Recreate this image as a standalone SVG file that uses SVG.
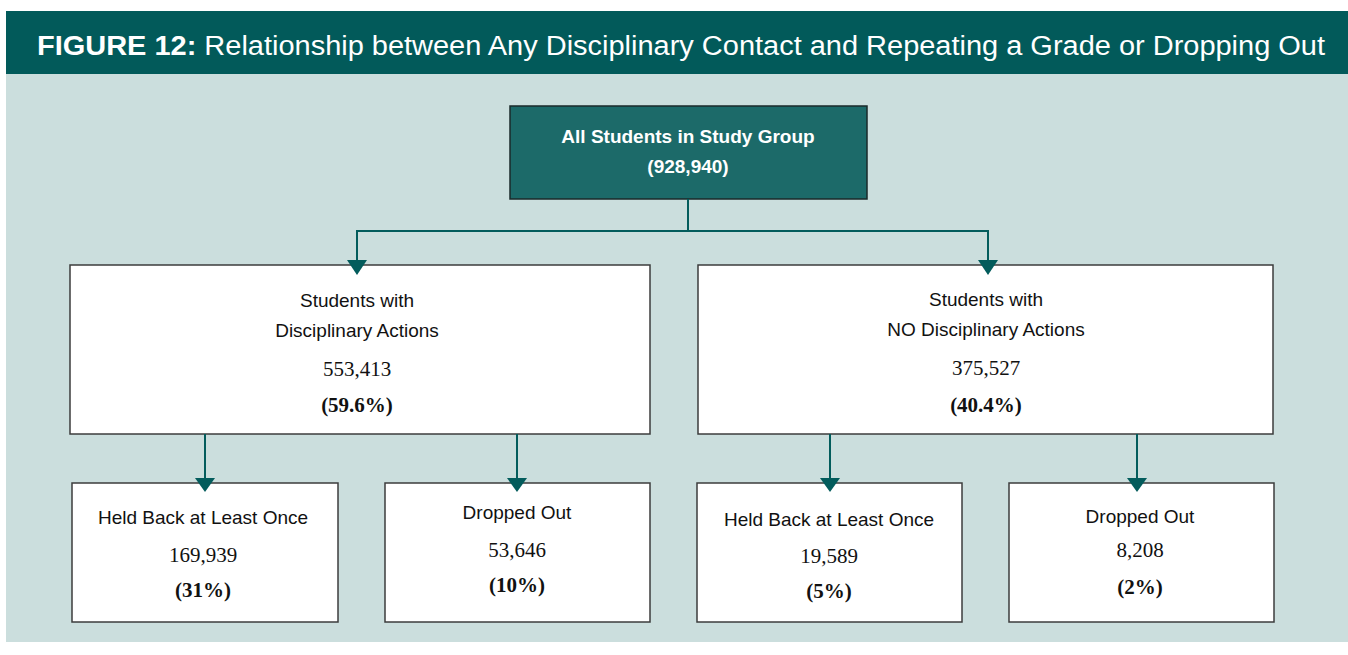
<svg xmlns="http://www.w3.org/2000/svg" width="1348" height="655" viewBox="0 0 1348 655">
<style>
.sans{font-family:"Liberation Sans",Arial,sans-serif;}
.box{fill:#ffffff;stroke:#3c3c3c;stroke-width:1.5;}
.lbl{font-family:"Liberation Sans",Arial,sans-serif;font-size:19px;fill:#111;text-anchor:middle;}
.num{font-family:"Liberation Serif","Times New Roman",serif;font-size:21px;fill:#111;text-anchor:middle;}
.pct{font-family:"Liberation Serif","Times New Roman",serif;font-size:21px;font-weight:bold;fill:#111;text-anchor:middle;}
.conn{fill:none;stroke:#035c5c;stroke-width:2;}
.head{fill:#035c5c;}
</style>
<rect x="0" y="0" width="1348" height="655" fill="#ffffff"/>
<rect x="6" y="11" width="1342" height="631" fill="#cbdedd"/>
<rect x="6" y="11" width="1342" height="63" fill="#025a5a"/>
<text x="37" y="55" class="sans" font-size="27" fill="#ffffff" textLength="1288" lengthAdjust="spacingAndGlyphs"><tspan font-weight="bold">FIGURE 12:</tspan> Relationship between Any Disciplinary Contact and Repeating a Grade or Dropping Out</text>

<g id="node-all">
<rect x="510" y="106" width="357" height="93" fill="#1c6a69" stroke="#1a2a2a" stroke-width="1.5"/>
<text x="688" y="143" class="sans" font-size="19" font-weight="bold" fill="#ffffff" text-anchor="middle">All Students in Study Group</text>
<text x="688" y="173" class="sans" font-size="19" font-weight="bold" fill="#ffffff" text-anchor="middle">(928,940)</text>
</g>

<g id="node-disc">
<rect class="box" x="70" y="265" width="580" height="169"/>
<text x="357" y="307" class="lbl">Students with</text>
<text x="357" y="337" class="lbl">Disciplinary Actions</text>
<text x="357" y="376" class="num">553,413</text>
<text x="357" y="412" class="pct">(59.6%)</text>
</g>

<g id="node-nodisc">
<rect class="box" x="698" y="265" width="575" height="169"/>
<text x="986" y="306" class="lbl">Students with</text>
<text x="986" y="336" class="lbl">NO Disciplinary Actions</text>
<text x="986" y="375" class="num">375,527</text>
<text x="986" y="412" class="pct">(40.4%)</text>
</g>

<g id="node-held1">
<rect class="box" x="72" y="483" width="266" height="139"/>
<text x="203" y="524" class="lbl">Held Back at Least Once</text>
<text x="203" y="562" class="num">169,939</text>
<text x="203" y="597" class="pct">(31%)</text>
</g>

<g id="node-drop1">
<rect class="box" x="385" y="483" width="265" height="139"/>
<text x="517" y="519" class="lbl">Dropped Out</text>
<text x="517" y="557" class="num">53,646</text>
<text x="517" y="592" class="pct">(10%)</text>
</g>

<g id="node-held2">
<rect class="box" x="697" y="483" width="265" height="139"/>
<text x="829" y="526" class="lbl">Held Back at Least Once</text>
<text x="829" y="563" class="num">19,589</text>
<text x="829" y="598" class="pct">(5%)</text>
</g>

<g id="node-drop2">
<rect class="box" x="1009" y="483" width="265" height="139"/>
<text x="1140" y="523" class="lbl">Dropped Out</text>
<text x="1140" y="557" class="num">8,208</text>
<text x="1140" y="594" class="pct">(2%)</text>
</g>

<g id="connectors">
<path class="conn" d="M688,199 V231 H357 V262"/>
<path class="conn" d="M688,231 H988 V262"/>
<path class="conn" d="M205,434 V480"/>
<path class="conn" d="M517,434 V480"/>
<path class="conn" d="M830,434 V480"/>
<path class="conn" d="M1137,434 V480"/>
<path class="head" d="M347,260 L367,260 L357,275 z"/>
<path class="head" d="M978,260 L998,260 L988,275 z"/>
<path class="head" d="M195,478 L215,478 L205,492 z"/>
<path class="head" d="M507,478 L527,478 L517,492 z"/>
<path class="head" d="M820,478 L840,478 L830,492 z"/>
<path class="head" d="M1127,478 L1147,478 L1137,492 z"/>
</g>
</svg>
